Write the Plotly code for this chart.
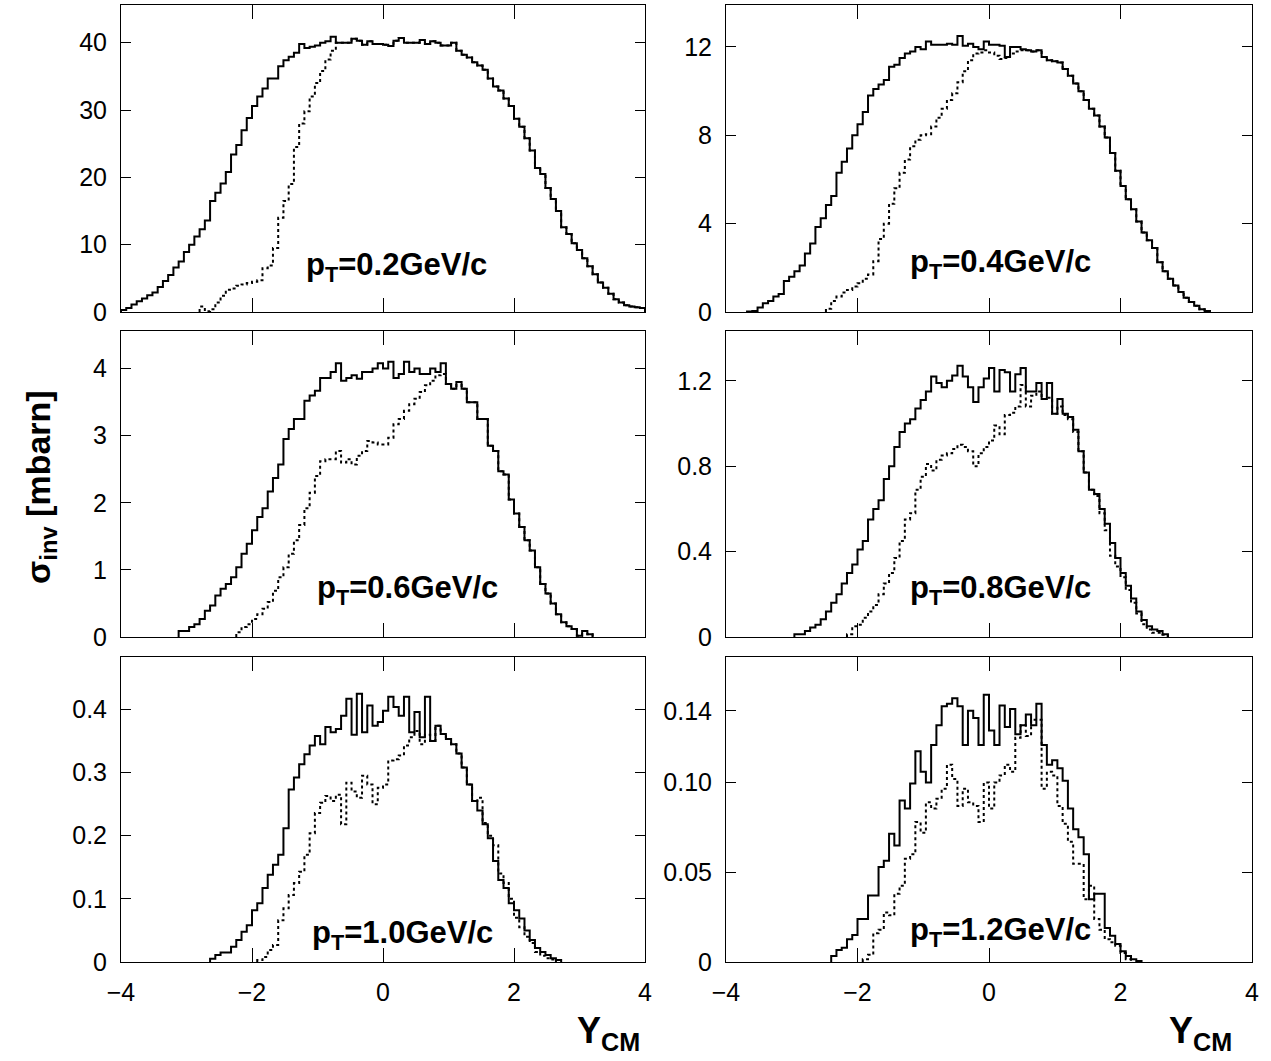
import plotly.graph_objects as go

# ---------------- data (bin width 0.08 in Y_CM, histogram starting at -4) ----------------
BIN = 0.08
X0 = -4.0

pt_labels = ["0.2", "0.4", "0.6", "0.8", "1.0", "1.2"]

# pT = 0.2 GeV/c
p02_solid_start = 0
p02_solid = [0.3, 0.6, 1.1, 1.6, 2.0, 2.5, 2.9, 3.7, 4.6, 5.5,
             6.6, 7.5, 8.9, 10.0, 11.2, 12.3, 13.6, 16.5, 17.7, 19.1,
             20.8, 23.4, 24.8, 27.0, 28.8, 30.6, 32.0, 33.2, 34.7, 34.7,
             36.5, 37.4, 37.9, 38.5, 39.8, 39.2, 39.4, 39.6, 40.0, 40.2,
             40.9, 40.0, 40.0, 40.0, 40.6, 40.3, 39.7, 40.2, 39.8, 39.8,
             39.7, 39.5, 40.3, 40.7, 40.0, 40.0, 40.0, 40.4, 39.8, 40.2,
             40.0, 39.6, 39.6, 40.0, 38.8, 38.2, 37.8, 37.1, 36.6, 36.0,
             34.7, 33.5, 32.9, 31.7, 30.6, 28.7, 27.5, 25.8, 24.0, 21.4,
             20.5, 18.4, 16.8, 15.0, 12.6, 11.6, 10.2, 9.2, 8.0, 6.8,
             5.6, 4.4, 3.6, 2.7, 1.9, 1.4, 1.0, 0.8, 0.7, 0.6]
p02_dot_start = 15
p02_dot = [0.8, 0.1, 0.4, 1.4, 2.4, 3.3, 3.5, 3.9, 4.1, 4.3,
           4.5, 4.7, 6.5, 6.9, 9.5, 14.0, 16.5, 19.0, 24.5, 28.0,
           29.8, 32.0, 34.0, 35.8, 37.5, 38.8]

# pT = 0.4 GeV/c
p04_solid_start = 4
p04_solid = [0.02, 0.05, 0.2, 0.4, 0.5, 0.7,
             0.82, 1.4, 1.6, 1.85, 2.1, 2.65, 3.1, 3.85, 4.25, 4.85,
             5.25, 6.3, 6.8, 7.4, 8.0, 8.5, 9.05, 9.8, 10.1, 10.3,
             10.5, 11.1, 11.2, 11.5, 11.7, 11.8, 12.0, 11.9, 12.25, 12.1,
             12.1, 12.1, 12.15, 12.1, 12.5, 12.05, 12.15, 12.0, 11.9, 12.25,
             12.1, 12.1, 12.05, 11.55, 12.0, 12.0, 11.9, 11.85, 11.8, 11.85,
             11.55, 11.4, 11.35, 11.3, 11.0, 10.7, 10.35, 10.0, 9.6, 9.2,
             8.9, 8.4, 7.9, 7.2, 6.4, 5.7, 5.1, 4.65, 4.1, 3.6,
             3.25, 2.9, 2.25, 1.85, 1.5, 1.2, 0.9, 0.65, 0.45, 0.28,
             0.12, 0.04]
p04_dot_start = 19
p04_dot = [0.15, 0.5, 0.7, 0.88, 1.0, 1.15, 1.3, 1.5, 1.7, 2.3,
           3.3, 4.0, 4.9, 5.6, 6.3, 6.9, 7.5, 7.8, 8.0, 8.05,
           8.4, 8.8, 9.2, 9.6, 9.9, 10.4, 10.9, 11.4, 11.7, 11.75,
           11.85, 11.75, 11.6, 11.45, 11.5, 11.7, 11.8, 11.85]

# pT = 0.6 GeV/c
p06_solid_start = 11
p06_solid = [0.09, 0.09, 0.15, 0.19, 0.27, 0.39, 0.47, 0.62, 0.72, 0.79,
             0.89, 1.04, 1.24, 1.39, 1.59, 1.79, 1.92, 2.17, 2.37, 2.57,
             2.95, 3.1, 3.25, 3.25, 3.52, 3.6, 3.67, 3.86, 3.86, 3.95,
             4.08, 3.82, 3.86, 3.9, 3.85, 3.95, 3.95, 4.0, 4.08, 4.0,
             4.1, 3.86, 3.92, 4.1, 3.95, 4.0, 3.92, 3.92, 4.0, 3.95,
             4.08, 3.77, 3.7, 3.8, 3.7, 3.5, 3.5, 3.25, 3.25, 2.85,
             2.77, 2.47, 2.42, 2.05, 1.84, 1.64, 1.44, 1.29, 1.04, 0.79,
             0.65, 0.5, 0.34, 0.22, 0.16, 0.12, 0.02, 0.09, 0.04]
p06_dot_start = 22
p06_dot = [0.07, 0.15, 0.19, 0.27, 0.34, 0.42, 0.52, 0.69, 0.89, 1.04,
           1.24, 1.44, 1.67, 1.92, 2.15, 2.4, 2.62, 2.65, 2.65, 2.77,
           2.6, 2.65, 2.57, 2.7, 2.77, 2.92, 2.9, 2.87, 2.87, 2.97,
           3.17, 3.25, 3.37, 3.47, 3.55, 3.65, 3.75, 3.82, 3.9, 3.92]

# pT = 0.8 GeV/c
p08_solid_start = 13
p08_solid = [0.013, 0.013, 0.028, 0.044, 0.057, 0.083, 0.12, 0.16, 0.2, 0.25,
             0.3, 0.34, 0.41, 0.45, 0.55, 0.6, 0.64, 0.74, 0.8, 0.89,
             0.96, 1.0, 1.02, 1.07, 1.11, 1.15, 1.22, 1.19, 1.17, 1.2,
             1.225, 1.27, 1.22, 1.17, 1.1, 1.17, 1.21, 1.26, 1.15, 1.25,
             1.24, 1.15, 1.23, 1.26, 1.15, 1.15, 1.19, 1.115, 1.19, 1.045,
             1.115, 1.045, 1.03, 0.97, 0.87, 0.77, 0.69, 0.67, 0.6, 0.53,
             0.44, 0.37, 0.3, 0.24, 0.18, 0.12, 0.08, 0.05, 0.035, 0.028, 0.013]
p08_dot_start = 23
p08_dot = [0.013, 0.05, 0.057, 0.09, 0.12, 0.15, 0.2, 0.25, 0.3, 0.37,
           0.45, 0.55, 0.58, 0.69, 0.75, 0.81, 0.78, 0.83, 0.85, 0.86,
           0.88, 0.9, 0.89, 0.87, 0.8, 0.86, 0.89, 0.92, 0.99, 0.95,
           1.04, 1.05, 1.08, 1.18, 1.08, 1.13, 1.15, 1.115, 1.12, 1.045,
           1.08, 1.04, 1.02, 0.96, 0.87, 0.77, 0.69, 0.66, 0.58, 0.5,
           0.38, 0.33, 0.28, 0.22, 0.16, 0.11, 0.06, 0.035, 0.02, 0.02, 0.01]

# pT = 1.0 GeV/c
p10_solid_start = 17
p10_solid = [0.005, 0.011, 0.015, 0.015, 0.024, 0.035, 0.048, 0.058, 0.082, 0.093,
             0.117, 0.138, 0.154, 0.17, 0.212, 0.273, 0.292, 0.313, 0.329, 0.343,
             0.358, 0.345, 0.372, 0.364, 0.369, 0.39, 0.417, 0.36, 0.425, 0.364,
             0.406, 0.374, 0.38, 0.398, 0.42, 0.404, 0.39, 0.42, 0.364, 0.396,
             0.356, 0.42, 0.35, 0.374, 0.361, 0.353, 0.345, 0.33, 0.308, 0.281,
             0.255, 0.24, 0.218, 0.196, 0.16, 0.13, 0.117, 0.093, 0.082, 0.069,
             0.05, 0.035, 0.022, 0.016, 0.011, 0.006, 0.003]
p10_dot_start = 26
p10_dot = [0.003, 0.008, 0.019, 0.027, 0.066, 0.085, 0.106, 0.125, 0.143, 0.17,
           0.204, 0.236, 0.252, 0.263, 0.255, 0.265, 0.218, 0.284, 0.27, 0.26,
           0.295, 0.281, 0.25, 0.276, 0.281, 0.319, 0.321, 0.327, 0.343, 0.356,
           0.366, 0.345, 0.36, 0.35, 0.374, 0.361, 0.353, 0.345, 0.33, 0.308,
           0.281, 0.255, 0.26, 0.22, 0.2, 0.185, 0.14, 0.125, 0.1, 0.07,
           0.055, 0.04, 0.03, 0.016, 0.01, 0.006, 0.004]

# pT = 1.2 GeV/c
p12_solid_start = 20
p12_solid = [0.0034, 0.0067, 0.008, 0.0127, 0.015, 0.024, 0.024, 0.037, 0.037, 0.053,
             0.0565, 0.0715, 0.065, 0.09, 0.0855, 0.0995, 0.1175, 0.106, 0.1, 0.121,
             0.132, 0.1425, 0.144, 0.147, 0.1425, 0.121, 0.14, 0.136, 0.121, 0.149,
             0.129, 0.121, 0.143, 0.131, 0.141, 0.127, 0.132, 0.138, 0.132, 0.144,
             0.121, 0.11, 0.1125, 0.108, 0.101, 0.0855, 0.074, 0.0696, 0.06, 0.035,
             0.038, 0.038, 0.019, 0.0146, 0.01, 0.006, 0.0034, 0.0015, 0.0006]
p12_dot_start = 26
p12_dot = [0.0015, 0.004, 0.016, 0.018, 0.0276, 0.026, 0.038, 0.0425, 0.0575, 0.06,
           0.078, 0.072, 0.089, 0.0855, 0.091, 0.0966, 0.11, 0.102, 0.087, 0.0966,
           0.089, 0.087, 0.078, 0.1, 0.0855, 0.1, 0.104, 0.11, 0.106, 0.125,
           0.132, 0.126, 0.135, 0.135, 0.0966, 0.106, 0.104, 0.087, 0.077, 0.067,
           0.0547, 0.0547, 0.035, 0.0425, 0.024, 0.018, 0.0127, 0.011, 0.009, 0.005, 0.0015]

# axis settings
y_ranges = [[0, 45.6], [0, 13.9], [0, 4.56], [0, 1.433], [0, 0.483], [0, 0.17]]
y_tickvals = [[0, 10, 20, 30, 40], [0, 4, 8, 12], [0, 1, 2, 3, 4],
              [0, 0.4, 0.8, 1.2], [0, 0.1, 0.2, 0.3, 0.4], [0, 0.05, 0.10, 0.14]]
y_ticktext = [["0", "10", "20", "30", "40"], ["0", "4", "8", "12"], ["0", "1", "2", "3", "4"],
              ["0", "0.4", "0.8", "1.2"], ["0", "0.1", "0.2", "0.3", "0.4"], ["0", "0.05", "0.10", "0.14"]]
x_tickvals = [-4, -2, 0, 2, 4]
x_ticktext = ["\u22124", "\u22122", "0", "2", "4"]


# merge dotted (distinct part) with the solid where both coincide
def full_dot(dstart, dvals, sstart, svals):
    end_bin = dstart + len(dvals)
    tail = svals[end_bin - sstart:] if end_bin - sstart < len(svals) else []
    return dvals + tail


series = [
    (p02_solid_start, p02_solid, p02_dot_start, full_dot(p02_dot_start, p02_dot, p02_solid_start, p02_solid)),
    (p04_solid_start, p04_solid, p04_dot_start, full_dot(p04_dot_start, p04_dot, p04_solid_start, p04_solid)),
    (p06_solid_start, p06_solid, p06_dot_start, full_dot(p06_dot_start, p06_dot, p06_solid_start, p06_solid)),
    (p08_solid_start, p08_solid, p08_dot_start, p08_dot),
    (p10_solid_start, p10_solid, p10_dot_start, p10_dot),
    (p12_solid_start, p12_solid, p12_dot_start, p12_dot),
]


def step_xy(start_bin, vals):
    edges = [X0 + BIN * (start_bin + k) for k in range(len(vals) + 1)]
    x = [edges[0]] + edges[:-1] + [edges[-1]]
    y = [0] + list(vals) + [0]
    return x, y


# ---------------- layout geometry (pixels -> paper) ----------------
W, H = 1271, 1061
col_px = [(121, 645), (726, 1252)]
row_px = [(5, 312), (331, 637), (657, 962)]

fig = go.Figure()
FONT = "Liberation Sans, Arial, Helvetica, sans-serif"

label_pos = [(0.2, 0.145), (0.17, 0.155), (0.37, 0.155), (0.17, 0.155), (0.29, 0.09), (0.17, 0.10)]

for k in range(6):
    r, c = divmod(k, 2)
    ax = "" if k == 0 else str(k + 1)
    sstart, svals, dstart, dvals = series[k]
    xd, yd = step_xy(dstart, dvals)
    xs, ys = step_xy(sstart, svals)
    fig.add_trace(go.Scatter(x=xd, y=yd, mode="lines", line=dict(color="black", width=2, dash="dot", shape="hv"),
                             xaxis="x" + ax, yaxis="y" + ax, showlegend=False, hoverinfo="skip"))
    fig.add_trace(go.Scatter(x=xs, y=ys, mode="lines", line=dict(color="black", width=2, shape="hv"),
                             xaxis="x" + ax, yaxis="y" + ax, showlegend=False, hoverinfo="skip"))
    x0p, x1p = col_px[c]
    y0p, y1p = row_px[r]
    xdom = [x0p / W, x1p / W]
    ydom = [1 - y1p / H, 1 - y0p / H]
    fig.layout["xaxis" + ax] = dict(
        domain=xdom, anchor="y" + ax, range=[-4, 4], tickvals=x_tickvals, ticktext=x_ticktext,
        ticks="inside", ticklen=14, tickwidth=1, tickcolor="black", automargin=False,
        showline=True, linecolor="black", linewidth=1, mirror="ticks",
        showgrid=False, zeroline=False, showticklabels=(r == 2), ticklabelstandoff=8,
        tickfont=dict(family=FONT, size=25, color="black"))
    fig.layout["yaxis" + ax] = dict(
        domain=ydom, anchor="x" + ax, range=y_ranges[k], tickvals=y_tickvals[k], ticktext=y_ticktext[k],
        ticks="inside", ticklen=10, tickwidth=1, tickcolor="black", automargin=False,
        showline=True, linecolor="black", linewidth=1, mirror="ticks", ticklabelstandoff=8,
        showgrid=False, zeroline=False,
        tickfont=dict(family=FONT, size=25, color="black"))
    lx, ly = label_pos[k]
    fig.add_annotation(text="<b>p<sub>T</sub>=" + pt_labels[k] + "GeV/c</b>",
                       x=lx, y=ly, xref="x" + ax, yref="y" + ax + " domain",
                       xanchor="center", yanchor="middle", showarrow=False,
                       font=dict(family=FONT, size=31, color="black"))

# axis titles
for xr in (642, 1234):
    fig.add_annotation(text="<b>Y<sub>CM</sub></b>", x=xr / W, y=1 - 1033 / H, xref="paper", yref="paper",
                       xanchor="right", yanchor="middle", showarrow=False,
                       font=dict(family=FONT, size=36, color="black"))
fig.add_annotation(text="<b>\u03c3<sub>inv</sub> [mbarn]</b>", x=40 / W, y=1 - 487 / H,
                   xref="paper", yref="paper", xanchor="center", yanchor="middle",
                   textangle=-90, showarrow=False, font=dict(family=FONT, size=34, color="black"))

fig.update_layout(width=W, height=H, margin=dict(l=0, r=0, t=0, b=0, autoexpand=False),
                  plot_bgcolor="white", paper_bgcolor="white")

fig.write_html("out.html", config={"displayModeBar": False},
               post_script="document.body.style.margin='0px';document.body.style.overflow='hidden';")
